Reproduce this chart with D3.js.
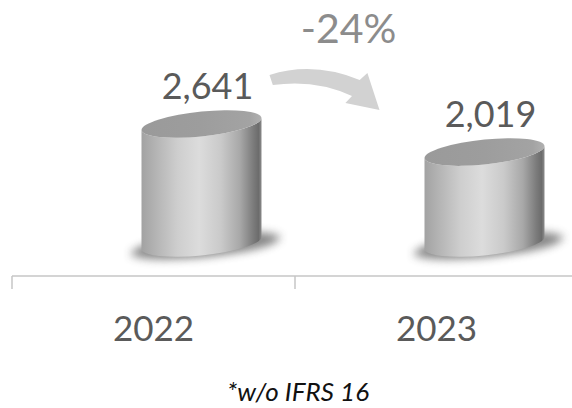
<!DOCTYPE html>
<html>
<head>
<meta charset="utf-8">
<script src="https://cdn.jsdelivr.net/npm/d3@7"></script>
<style>
  html, body { margin: 0; padding: 0; background: #fff; }
  svg { display: block; font-family: Lato, "Open Sans", sans-serif; font-weight: 400; }
</style>
</head>
<body>
<svg id="chart" width="572" height="408"></svg>
<script>
// Values per year (thousands)
const years = ["2022", "2023"];
const values = [2641, 2019];
const valueLabels = ["2,641", "2,019"];
const changeLabel = "-24%";
const footnote = "*w/o IFRS 16";

const svg = d3.select("#chart");
const W = 572;

// Category axis
const x = d3.scaleBand().domain(years).range([12, 578]);
// Value scale: cylinder top centre
const y = d3.scaleLinear().domain([0, 2641]).range([243, 124]);

const axisY = 276;
const barShift = 48;   // perspective offset of the cylinders
const rx = 60, ry = 12.5;
const skew = -5.7;

const defs = svg.append("defs");
const bodyGrad = defs.append("linearGradient").attr("id", "bodyGrad")
  .attr("x1", "0%").attr("x2", "100%").attr("y1", "0%").attr("y2", "0%");
[[0, "#a2a2a2"], [0.12, "#b4b4b4"], [0.3, "#cecece"], [0.48, "#dcdcdc"],
 [0.66, "#cacaca"], [0.82, "#a8a8a8"], [0.93, "#7c7c7c"], [0.975, "#6c6c6c"], [1, "#8a8a8a"]]
  .forEach(([o, c]) => bodyGrad.append("stop").attr("offset", o).attr("stop-color", c));

const capGrad = defs.append("linearGradient").attr("id", "capGrad")
  .attr("x1", "0%").attr("x2", "100%").attr("y1", "0%").attr("y2", "0%");
[[0, "#9a9a9a"], [0.5, "#9d9d9d"], [0.9, "#a3a3a3"], [1, "#b0b0b0"]]
  .forEach(([o, c]) => capGrad.append("stop").attr("offset", o).attr("stop-color", c));

defs.append("filter").attr("id", "soft").attr("x", "-30%").attr("y", "-100%")
  .attr("width", "160%").attr("height", "300%")
  .append("feGaussianBlur").attr("stdDeviation", 4.5);

// Axis line and ticks
svg.append("line").attr("x1", 12).attr("x2", W).attr("y1", axisY).attr("y2", axisY)
  .attr("stroke", "#c6c6c6").attr("stroke-width", 1.5);
const tickXs = [x.range()[0], ...years.slice(1).map(d => x(d))];
svg.selectAll("line.tick").data(tickXs).join("line").attr("class", "tick")
  .attr("x1", d => d).attr("x2", d => d).attr("y1", axisY).attr("y2", axisY + 13)
  .attr("stroke", "#c6c6c6").attr("stroke-width", 1.5);

// Category labels
svg.selectAll("text.cat").data(years).join("text").attr("class", "cat")
  .attr("x", d => x(d) + x.bandwidth() / 2).attr("y", 341)
  .attr("text-anchor", "middle").attr("font-size", 35).attr("fill", "#5a5a5a")
  .text(d => d);

// Cylinders
const data = years.map((d, i) => ({ year: d, value: values[i], label: valueLabels[i] }));
const yb = y(0);
const bars = svg.selectAll("g.bar").data(data).join("g").attr("class", "bar")
  .attr("transform", d => {
    const cx = x(d.year) + x.bandwidth() / 2 + barShift;
    return `translate(${cx},0) skewY(${skew})`;
  });

bars.append("ellipse").attr("cx", 4).attr("cy", yb + 3).attr("rx", rx + 14).attr("ry", ry - 1)
  .attr("fill", "#4a4a4a").attr("opacity", 0.65).attr("filter", "url(#soft)");

bars.append("path").attr("fill", "url(#bodyGrad)")
  .attr("d", d => {
    const yt = y(d.value);
    return `M${-rx},${yt} L${-rx},${yb} A${rx},${ry} 0 0 0 ${rx},${yb} L${rx},${yt} A${rx},${ry} 0 0 1 ${-rx},${yt} Z`;
  });

bars.append("ellipse").attr("cx", 0).attr("cy", d => y(d.value))
  .attr("rx", rx).attr("ry", ry).attr("fill", "url(#capGrad)");

// Value labels
svg.selectAll("text.val").data(data).join("text").attr("class", "val")
  .attr("x", d => x(d.year) + x.bandwidth() / 2 + barShift + 6)
  .attr("y", d => y(d.value) - 25)
  .attr("text-anchor", "middle").attr("font-size", 36).attr("fill", "#5a5a5a")
  .text(d => d.label);

// Change arrow between the two values
const a0 = x(years[0]) + x.bandwidth() / 2 + barShift + 68;
const a1 = x(years[1]) + x.bandwidth() / 2 + barShift - 105;
const ay = y(values[0]) - 49;
const L = a1 - a0;
const p = (fx, dy) => `${(a0 + fx * L).toFixed(1)},${(ay + dy).toFixed(1)}`;
svg.append("path").attr("fill", "#d2d2d2")
  .attr("d",
    `M${p(0, 0)} Q${p(0.4, -14)} ${p(0.82, 5)} L${p(0.89, -2)} L${p(1, 35)} ` +
    `L${p(0.69, 28)} L${p(0.75, 21)} Q${p(0.42, 4)} ${p(0.03, 10)} Z`);

svg.append("text").attr("x", (a0 + a1) / 2 + 24).attr("y", 43)
  .attr("text-anchor", "middle").attr("font-size", 41).attr("fill", "#8c8c8c")
  .text(changeLabel);

// Footnote
svg.append("text").attr("x", 298).attr("y", 401)
  .attr("text-anchor", "middle").attr("font-size", 26).attr("font-style", "italic")
  .attr("fill", "#111").text(footnote);
</script>
</body>
</html>
